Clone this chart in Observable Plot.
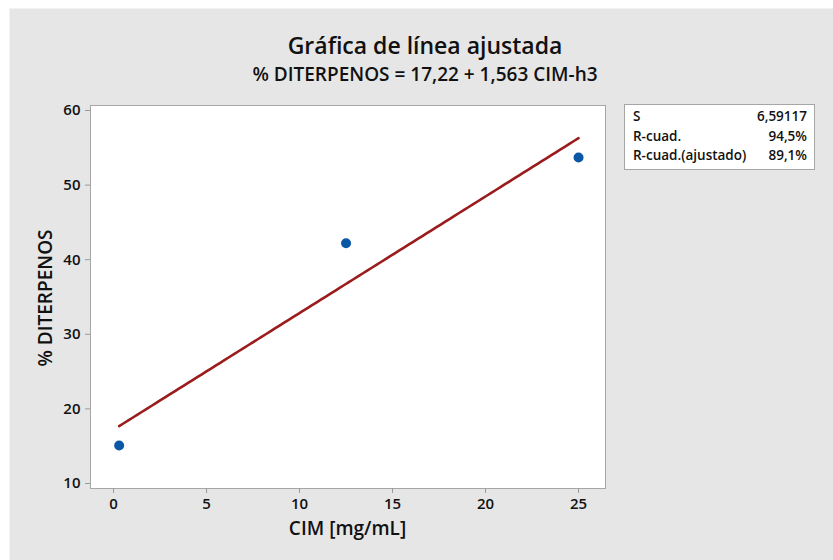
<!DOCTYPE html>
<html>
<head>
<meta charset="utf-8">
<script src="https://cdn.jsdelivr.net/npm/d3@7"></script>
<script src="https://cdn.jsdelivr.net/npm/@observablehq/plot@0.6"></script>
<style>
  html, body { margin: 0; padding: 0; background: #ffffff; }
  #wrap { position: relative; width: 833px; height: 560px; overflow: hidden; font-family: "Open Sans", "Noto Sans", sans-serif; }
  #bg { position: absolute; left: 9px; top: 8px; right: 0; bottom: 0; background: #e6e6e6; border-left: 1px solid #f2f2f2; border-top: 1px solid #f2f2f2; }
  #chart { position: absolute; left: 0; top: 0; }
  .title { position: absolute; left: 0; width: 850px; text-align: center; color: #111; white-space: nowrap; }
  #t1 { top: 29px; font-size: 23px; font-weight: 600; }
  #t2 { top: 61px; font-size: 19px; font-weight: 600; }
  #xlab { position: absolute; left: 90px; width: 515px; top: 515px; text-align: center; font-size: 19px; font-weight: 600; color: #111; }
  #ylab { position: absolute; left: 45px; top: 298px; transform: translate(-50%, -50%) rotate(-90deg); white-space: nowrap; font-size: 19px; font-weight: 600; color: #111; }
  #stats { position: absolute; left: 624px; top: 104px; width: 191px; height: 66px; background: #fff; border: 1px solid #a6a6a6; box-sizing: border-box; padding: 2px 7px 0 8px; font-size: 13.5px; font-weight: 600; line-height: 19.5px; color: #111; }
  #stats .row { display: flex; justify-content: space-between; }
</style>
</head>
<body>
<div id="wrap">
  <div id="bg"></div>
  <div id="chart"></div>
  <div class="title" id="t1">Gráfica de línea ajustada</div>
  <div class="title" id="t2">% DITERPENOS = 17,22 + 1,563 CIM-h3</div>
  <div id="xlab">CIM [mg/mL]</div>
  <div id="ylab">% DITERPENOS</div>
  <div id="stats"></div>
</div>
<script>
// Observed values
const cim = [0.3, 12.5, 25];
const diterpenos = [15.1, 42.2, 53.7];

// Fitted regression line
const intercept = 17.22;
const slope = 1.563;

// Summary statistics of the fit
const statNames = ["S", "R-cuad.", "R-cuad.(ajustado)"];
const statValues = ["6,59117", "94,5%", "89,1%"];

// Axis ticks
const xTicks = [0, 5, 10, 15, 20, 25];
const yTicks = [10, 20, 30, 40, 50, 60];

const points = cim.map((x, i) => ({x, y: diterpenos[i]}));
const xMin = d3.min(cim), xMax = d3.max(cim);
const fit = d3.range(0, 101).map(i => {
  const x = xMin + (xMax - xMin) * i / 100;
  return {x, y: intercept + slope * x};
});

const chart = Plot.plot({
  width: 833,
  height: 560,
  marginLeft: 90,
  marginRight: 228,
  marginTop: 105,
  marginBottom: 72,
  style: {background: "transparent", fontFamily: "'Open Sans', 'Noto Sans', sans-serif"},
  x: {domain: [-1.24, 26.45]},
  y: {domain: [9.33, 60.67]},
  marks: [
    Plot.frame({fill: "white", stroke: "#a6a6a6"}),
    Plot.axisX({ticks: xTicks, tickFormat: d => String(d), tickSize: 5, tickPadding: 5, stroke: "#999", fill: "#111", fontSize: 15, fontWeight: 600, label: null}),
    Plot.axisY({ticks: yTicks, tickFormat: d => String(d), tickSize: 5, tickPadding: 5, stroke: "#999", fill: "#111", fontSize: 15, fontWeight: 600, label: null}),
    Plot.line(fit, {x: "x", y: "y", stroke: "#9b1c1c", strokeWidth: 2.6}),
    Plot.dot(points, {x: "x", y: "y", r: 5, fill: "#0a57a5", stroke: "none"})
  ]
});
document.getElementById("chart").append(chart);

const stats = document.getElementById("stats");
statNames.forEach((n, i) => {
  const row = document.createElement("div");
  row.className = "row";
  const a = document.createElement("span"); a.textContent = n;
  const b = document.createElement("span"); b.textContent = statValues[i];
  row.append(a, b);
  stats.append(row);
});
</script>
</body>
</html>
